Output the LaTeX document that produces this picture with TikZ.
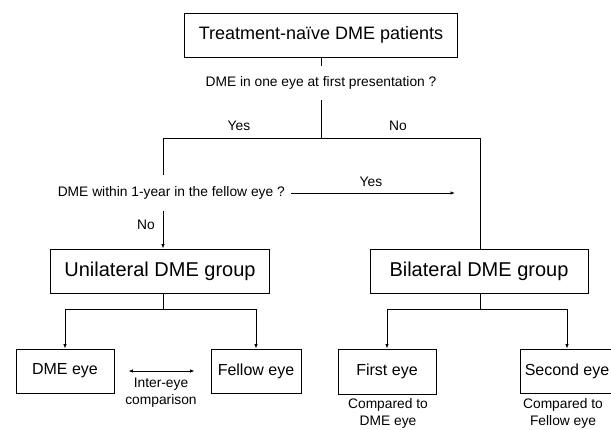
\documentclass[tikz,border=0pt]{standalone}
\usepackage{fontspec}
\setmainfont{Liberation Sans}
\usetikzlibrary{arrows.meta}

\begin{document}
\begin{tikzpicture}[
  x=1pt, y=-1pt,
  box/.style={rectangle, draw, line width=0.9pt, inner sep=0pt},
  topbox/.style={box, minimum width=273pt, minimum height=44pt, font=\fontsize{18}{21}\selectfont},
  groupbox/.style={box, minimum width=219pt, minimum height=44pt, font=\fontsize{20}{24}\selectfont},
  eyebox/.style={box, minimum height=44pt, font=\fontsize{16}{19}\selectfont},
  note/.style={inner sep=0pt, font=\fontsize{13.8}{17}\selectfont, align=center},
  link/.style={line width=0.8pt},
  arr/.style={link, -{Latex[length=4.5pt,width=3.5pt]}}
]
  \useasboundingbox (0,0) rectangle (611,429);

  % top of the tree
  \node[topbox] (start) at (321,35) {Treatment-naïve DME patients};
  \node[note, inner ysep=10pt] (q1) at (321,83) {DME in one eye at first presentation ?};
  \coordinate (split) at (321,138);
  \coordinate (left) at (163,138);
  \coordinate (right) at (480,138);
  \node[note] (yes1) at (239,126) {Yes};
  \node[note] (no1) at (398,126) {No};

  % second question
  \node[note, anchor=east, inner xsep=6pt, inner ysep=11pt] (q2) at (291,193) {DME within 1-year in the fellow eye ?};
  \coordinate (yesend) at (455,193);
  \node[note] (yes2) at (371,182) {Yes};
  \node[note] (no2) at (146,225) {No};

  % groups
  \node[groupbox] (uni) at (160,271) {Unilateral DME group};
  \node[groupbox, minimum width=218pt] (bil) at (479,271) {Bilateral DME group};

  % eyes
  \node[eyebox, minimum width=98pt] (dme) at (65,371) {DME eye};
  \node[eyebox, minimum width=90pt] (fel) at (256,371) {Fellow eye};
  \node[eyebox, minimum width=98pt, minimum height=45pt] (first) at (387,371.5) {First eye};
  \node[eyebox, minimum width=94pt] (second) at (567,371) {Second eye};

  \node[note] (inter) at (161,393) {Inter-eye\\comparison};
  \node[note] (cmp1) at (388,413) {Compared to\\DME eye};
  \node[note] (cmp2) at (563,413) {Compared to\\Fellow eye};

  % connectors
  \draw[link] (start.south) -- (q1.north);
  \draw[link] (q1.south) -- (split);
  \draw[link] (left) -- (right);
  \draw[link] (left) -- (left |- q2.north);
  \draw[arr] (left |- q2.south) -- (left |- uni.north);
  \draw[arr] (q2.east) -- (yesend);
  \draw[link] (right) -- (right |- bil.north);

  \coordinate (ujoin) at (163,309);
  \coordinate (bjoin) at (480,309);
  \draw[link] (uni.south -| ujoin) -- (ujoin);
  \draw[arr] (ujoin) -| (dme.north);
  \draw[arr] (ujoin) -| (fel.north);
  \draw[link] (bil.south -| bjoin) -- (bjoin);
  \draw[arr] (bjoin) -| (first.north);
  \draw[arr] (bjoin) -| (second.north);
  \draw[link, {Latex[length=4.5pt,width=3.5pt]}-{Latex[length=4.5pt,width=3.5pt]}] ([xshift=14pt]dme.east) -- ([xshift=-16pt]fel.west);
\end{tikzpicture}
\end{document}
